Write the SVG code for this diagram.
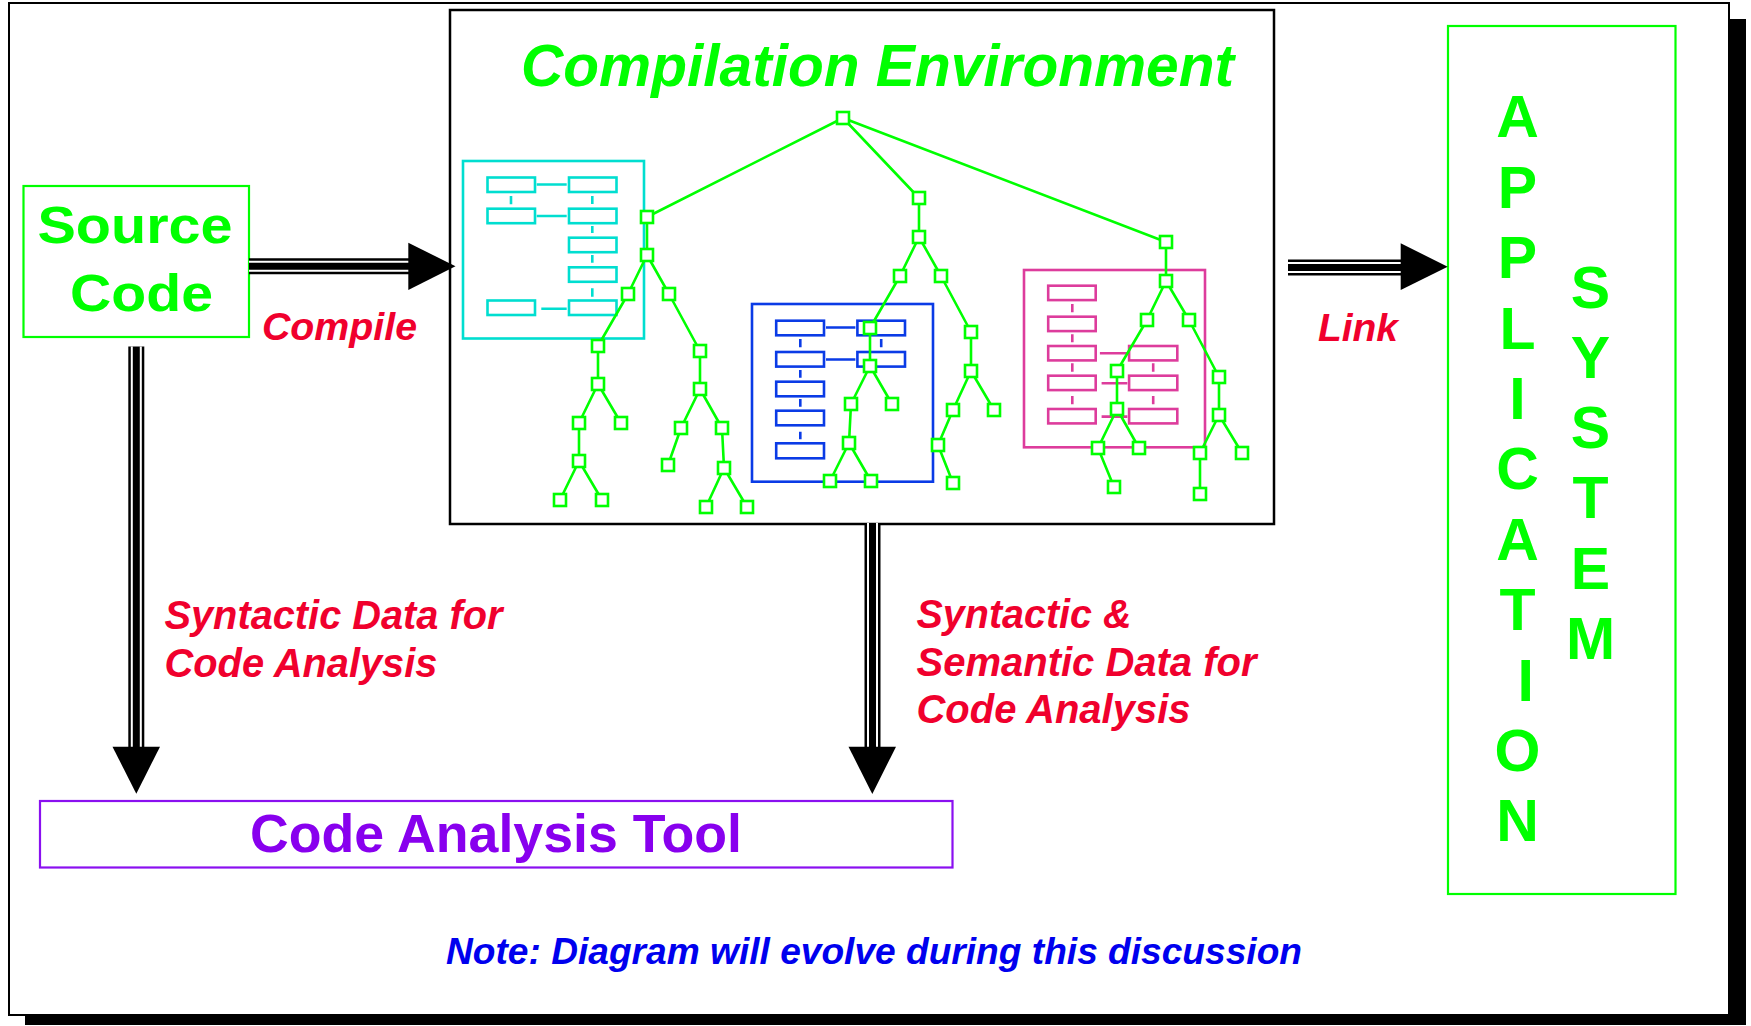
<svg xmlns="http://www.w3.org/2000/svg" width="1751" height="1026" viewBox="0 0 1751 1026">
<style>
  .sans{font-family:"Liberation Sans",Arial,sans-serif;font-weight:bold}
  .it{font-style:italic}
  .red{fill:#f0002d}
  .grn{fill:#00ff00}
  .e{stroke:#00ff00;stroke-width:2.6;fill:none}
  .n{stroke:#00ff00;stroke-width:2.6;fill:#fff}
  .cy{stroke:#00ded0;stroke-width:2.6;fill:none}
  .bl{stroke:#0a3be6;stroke-width:2.6;fill:none}
  .mg{stroke:#dd3c9c;stroke-width:2.6;fill:none}
  .bar{stroke:#000;stroke-width:16}
  .gap{stroke:#fff;stroke-width:2}
  .head{fill:#000}
</style>

<!-- page frame with drop shadow -->
<rect x="25" y="19" width="1721" height="1006" fill="#000"/>
<rect x="9" y="3" width="1720" height="1012" fill="#fff" stroke="#000" stroke-width="2"/>

<!-- source code -->
<g id="source-code">
  <rect x="23.5" y="186" width="225.5" height="151" fill="none" stroke="#00ff00" stroke-width="2.2"/>
  <text class="sans grn" x="37.5" y="243" font-size="52" textLength="195" lengthAdjust="spacingAndGlyphs">Source</text>
  <text class="sans grn" x="70" y="310.5" font-size="52" textLength="143" lengthAdjust="spacingAndGlyphs">Code</text>
</g>

<!-- compilation environment -->
<g id="compilation-environment">
  <rect x="450" y="10" width="824" height="514" fill="none" stroke="#000" stroke-width="2.5"/>
  <text class="sans it grn" x="521" y="86" font-size="59" textLength="713" lengthAdjust="spacingAndGlyphs">Compilation Environment</text>

  <!-- cyan module -->
  <g id="module-cyan">
    <rect class="cy" x="463" y="161" width="181" height="177.5"/>
    <rect class="cy" x="487.5" y="177.5" width="47.5" height="14.5"/>
    <rect class="cy" x="487.5" y="208.7" width="47.5" height="14.5"/>
    <rect class="cy" x="487.5" y="300.5" width="47.5" height="14.5"/>
    <rect class="cy" x="569" y="177.5" width="47.5" height="14.5"/>
    <rect class="cy" x="569" y="208.7" width="47.5" height="14.5"/>
    <rect class="cy" x="569" y="237.7" width="47.5" height="14.5"/>
    <rect class="cy" x="569" y="267.3" width="47.5" height="14.5"/>
    <rect class="cy" x="569" y="300.5" width="47.5" height="14.5"/>
    <path class="cy" d="M536.7 184.5H566.7M536.7 216H566.7M541.3 308.7H566.7M511 196V204.3M592.3 196V204M592.3 226V233M592.3 255V262.7M592.3 288.3V296.7"/>
  </g>

  <!-- blue module -->
  <g id="module-blue">
    <rect class="bl" x="752" y="304" width="181" height="177.7"/>
    <rect class="bl" x="776.2" y="320.7" width="47.8" height="14.6"/>
    <rect class="bl" x="776.2" y="352" width="47.8" height="14.6"/>
    <rect class="bl" x="776.2" y="381.7" width="47.8" height="14.6"/>
    <rect class="bl" x="776.2" y="410.7" width="47.8" height="14.6"/>
    <rect class="bl" x="776.2" y="443.3" width="47.8" height="15"/>
    <rect class="bl" x="857.4" y="320.7" width="47.6" height="14.6"/>
    <rect class="bl" x="857.4" y="352" width="47.6" height="14.6"/>
    <path class="bl" d="M826 327.5H855.4M826 359.5H855.4M800.3 339V347.3M800.3 370V377.7M800.3 399V406.7M800.3 431.7V439.3M881.2 339V347.3"/>
  </g>

  <!-- magenta module -->
  <g id="module-magenta">
    <rect class="mg" x="1024" y="270" width="181" height="177.3"/>
    <rect class="mg" x="1048.2" y="285.7" width="47.5" height="14.4"/>
    <rect class="mg" x="1048.2" y="316.7" width="47.5" height="14.4"/>
    <rect class="mg" x="1048.2" y="346" width="47.5" height="14.4"/>
    <rect class="mg" x="1048.2" y="375.7" width="47.5" height="14.4"/>
    <rect class="mg" x="1048.2" y="409" width="47.5" height="14.4"/>
    <rect class="mg" x="1129.1" y="346" width="48.2" height="14.4"/>
    <rect class="mg" x="1129.1" y="375.7" width="48.2" height="14.4"/>
    <rect class="mg" x="1129.1" y="409" width="48.2" height="14.4"/>
    <path class="mg" d="M1099.9 353.3H1127.4M1101.6 383.3H1127.4M1101.6 416.6H1127.4M1072.3 304V312.3M1072.3 334.3V342.3M1072.3 363.3V371.7M1072.3 396V404.3M1153.2 363.3V371.7M1153.2 396V404.3"/>
  </g>

  <!-- parse tree edges -->
  <path class="e" d="
    M843 118L647 217M843 118L919 198M843 118L1166 242
    M647 217L647 255M647 255L628 294M647 255L669 294
    M628 294L598 346M598 346L598 384M598 384L579 423M598 384L621 423
    M579 423L579 461M579 461L560 500M579 461L602 500
    M669 294L700 351M700 351L700 389M700 389L681 428M700 389L722 428
    M681 428L668 465M722 428L724 468M724 468L706 507M724 468L747 507
    M919 198L919 237M919 237L900 276M919 237L941 276
    M900 276L870 328M870 328L870 366M870 366L851 404M870 366L892 404
    M851 404L849 443M849 443L830 481M849 443L871 481
    M941 276L971 332M971 332L971 371M971 371L953 410M971 371L994 410
    M953 410L938 445M938 445L953 483
    M1166 242L1166 281M1166 281L1147 320M1166 281L1189 320
    M1147 320L1117 371M1117 371L1117 409M1117 409L1098 448M1117 409L1139 448
    M1098 448L1114 487
    M1189 320L1219 377M1219 377L1219 415M1219 415L1200 453M1219 415L1242 453
    M1200 453L1200 494"/>

  <!-- parse tree nodes -->
  <g id="tree-nodes">
    <rect class="n" x="837" y="112" width="12" height="12"/>
    <rect class="n" x="641" y="211" width="12" height="12"/>
    <rect class="n" x="641" y="249" width="12" height="12"/>
    <rect class="n" x="622" y="288" width="12" height="12"/>
    <rect class="n" x="663" y="288" width="12" height="12"/>
    <rect class="n" x="592" y="340" width="12" height="12"/>
    <rect class="n" x="592" y="378" width="12" height="12"/>
    <rect class="n" x="573" y="417" width="12" height="12"/>
    <rect class="n" x="615" y="417" width="12" height="12"/>
    <rect class="n" x="573" y="455" width="12" height="12"/>
    <rect class="n" x="554" y="494" width="12" height="12"/>
    <rect class="n" x="596" y="494" width="12" height="12"/>
    <rect class="n" x="694" y="345" width="12" height="12"/>
    <rect class="n" x="694" y="383" width="12" height="12"/>
    <rect class="n" x="675" y="422" width="12" height="12"/>
    <rect class="n" x="716" y="422" width="12" height="12"/>
    <rect class="n" x="662" y="459" width="12" height="12"/>
    <rect class="n" x="718" y="462" width="12" height="12"/>
    <rect class="n" x="700" y="501" width="12" height="12"/>
    <rect class="n" x="741" y="501" width="12" height="12"/>

    <rect class="n" x="913" y="192" width="12" height="12"/>
    <rect class="n" x="913" y="231" width="12" height="12"/>
    <rect class="n" x="894" y="270" width="12" height="12"/>
    <rect class="n" x="935" y="270" width="12" height="12"/>
    <rect class="n" x="864" y="322" width="12" height="12"/>
    <rect class="n" x="864" y="360" width="12" height="12"/>
    <rect class="n" x="845" y="398" width="12" height="12"/>
    <rect class="n" x="886" y="398" width="12" height="12"/>
    <rect class="n" x="843" y="437" width="12" height="12"/>
    <rect class="n" x="824" y="475" width="12" height="12"/>
    <rect class="n" x="865" y="475" width="12" height="12"/>
    <rect class="n" x="965" y="326" width="12" height="12"/>
    <rect class="n" x="965" y="365" width="12" height="12"/>
    <rect class="n" x="947" y="404" width="12" height="12"/>
    <rect class="n" x="988" y="404" width="12" height="12"/>
    <rect class="n" x="932" y="439" width="12" height="12"/>
    <rect class="n" x="947" y="477" width="12" height="12"/>

    <rect class="n" x="1160" y="236" width="12" height="12"/>
    <rect class="n" x="1160" y="275" width="12" height="12"/>
    <rect class="n" x="1141" y="314" width="12" height="12"/>
    <rect class="n" x="1183" y="314" width="12" height="12"/>
    <rect class="n" x="1111" y="365" width="12" height="12"/>
    <rect class="n" x="1111" y="403" width="12" height="12"/>
    <rect class="n" x="1092" y="442" width="12" height="12"/>
    <rect class="n" x="1133" y="442" width="12" height="12"/>
    <rect class="n" x="1108" y="481" width="12" height="12"/>
    <rect class="n" x="1213" y="371" width="12" height="12"/>
    <rect class="n" x="1213" y="409" width="12" height="12"/>
    <rect class="n" x="1194" y="447" width="12" height="12"/>
    <rect class="n" x="1236" y="447" width="12" height="12"/>
    <rect class="n" x="1194" y="488" width="12" height="12"/>
  </g>
</g>

<!-- application system -->
<g id="application-system">
  <rect x="1448" y="26" width="227.5" height="868" fill="none" stroke="#00ff00" stroke-width="2.2"/>
  <g class="sans grn" font-size="59" text-anchor="middle">
    <text x="1517.5" y="137.3">A</text>
    <text x="1517.5" y="207.7">P</text>
    <text x="1517.5" y="278.1">P</text>
    <text x="1517.5" y="348.5">L</text>
    <text x="1517.5" y="418.9">I</text>
    <text x="1517.5" y="489.3">C</text>
    <text x="1517.5" y="559.7">A</text>
    <text x="1517.5" y="630.1">T</text>
    <text x="1525.7" y="700.5">I</text>
    <text x="1517.5" y="770.5">O</text>
    <text x="1517.5" y="841.3">N</text>
    <text x="1590.5" y="307.5">S</text>
    <text x="1590.5" y="377.7">Y</text>
    <text x="1590.5" y="447.7">S</text>
    <text x="1590.5" y="518.3">T</text>
    <text x="1590.5" y="589.3">E</text>
    <text x="1590.5" y="659.3">M</text>
  </g>
</g>

<!-- code analysis tool -->
<g id="code-analysis-tool">
  <rect x="40" y="801" width="912.5" height="66.5" fill="none" stroke="#8a10f0" stroke-width="2.2"/>
  <text class="sans" x="250" y="852" font-size="53" fill="#8800ee" textLength="492" lengthAdjust="spacingAndGlyphs">Code Analysis Tool</text>
</g>

<!-- connectors: triple-ruled flow arrows -->
<g id="connectors">
  <g id="compile">
    <line class="bar" x1="249" y1="266.3" x2="410" y2="266.3"/>
    <line class="gap" x1="249" y1="261.8" x2="410" y2="261.8"/>
    <line class="gap" x1="249" y1="270.8" x2="410" y2="270.8"/>
    <polygon class="head" points="408.3,242.7 455.5,266.3 408.3,290"/>
  </g>
  <g id="link">
    <line class="bar" x1="1288" y1="267.5" x2="1402" y2="267.5"/>
    <line class="gap" x1="1288" y1="263" x2="1402" y2="263"/>
    <line class="gap" x1="1288" y1="272" x2="1402" y2="272"/>
    <polygon class="head" points="1400.7,243.3 1447.7,266.7 1400.7,290"/>
  </g>
  <g id="syntactic">
    <line class="bar" x1="136.3" y1="346.5" x2="136.3" y2="748"/>
    <line class="gap" x1="131.8" y1="346.5" x2="131.8" y2="748"/>
    <line class="gap" x1="140.8" y1="346.5" x2="140.8" y2="748"/>
    <polygon class="head" points="112.5,746.7 160,746.7 136.3,793.7"/>
  </g>
  <g id="semantic">
    <line class="bar" x1="872.5" y1="523" x2="872.5" y2="748"/>
    <line class="gap" x1="868" y1="523" x2="868" y2="748"/>
    <line class="gap" x1="877" y1="523" x2="877" y2="748"/>
    <polygon class="head" points="848.5,746.7 896,746.7 872.3,794"/>
  </g>
</g>

<!-- connector labels -->
<g class="sans it red" font-size="39">
  <text x="262" y="340" textLength="155" lengthAdjust="spacingAndGlyphs">Compile</text>
  <text x="1318" y="340.6" textLength="80" lengthAdjust="spacingAndGlyphs">Link</text>
</g>
<g class="sans it red" font-size="40">
  <text x="164.5" y="628.8" textLength="338" lengthAdjust="spacingAndGlyphs">Syntactic Data for</text>
  <text x="164.5" y="676.5" textLength="273" lengthAdjust="spacingAndGlyphs">Code Analysis</text>
  <text x="916.5" y="628.3" textLength="215" lengthAdjust="spacingAndGlyphs">Syntactic &amp;</text>
  <text x="916.5" y="676" textLength="340" lengthAdjust="spacingAndGlyphs">Semantic Data for</text>
  <text x="916.5" y="722.7" textLength="274" lengthAdjust="spacingAndGlyphs">Code Analysis</text>
</g>

<!-- footnote -->
<text class="sans it" x="446" y="963.7" font-size="37" fill="#0000ee" textLength="856" lengthAdjust="spacingAndGlyphs">Note: Diagram will evolve during this discussion</text>
</svg>
